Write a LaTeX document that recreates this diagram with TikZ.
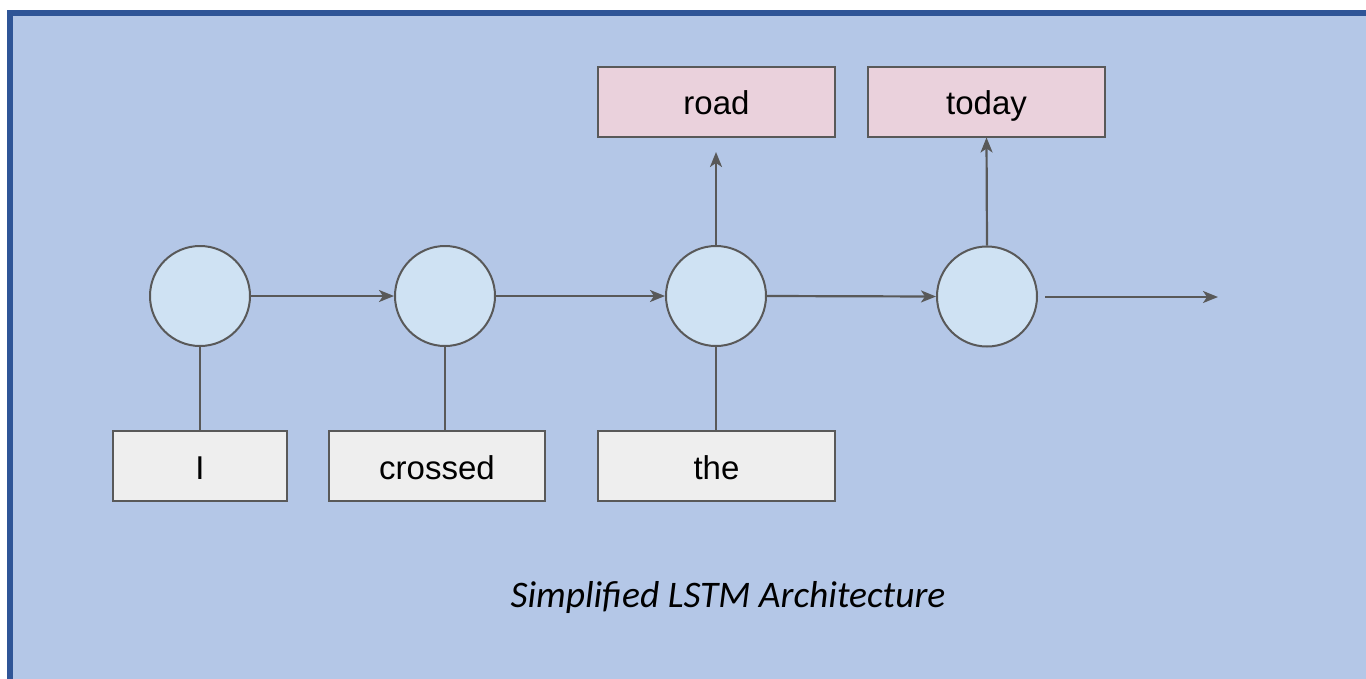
\documentclass[tikz,border=0pt]{standalone}
\usepackage{fontspec}
\setmainfont{Liberation Sans}
\newfontfamily\capfont{Carlito}
\usetikzlibrary{arrows.meta}
\definecolor{bgblue}{HTML}{B4C7E7}
\definecolor{frameblue}{HTML}{2F5597}
\definecolor{cellfill}{HTML}{CFE2F3}
\definecolor{edgegray}{HTML}{595959}
\definecolor{inbox}{HTML}{EEEEEE}
\definecolor{outbox}{HTML}{EAD1DC}
\tikzset{
  cell/.style={circle, draw=edgegray, line width=2pt, fill=cellfill, minimum size=100pt, inner sep=0pt},
  wordbox/.style={rectangle, draw=edgegray, line width=2pt, fill=inbox, minimum height=70pt, inner sep=0pt, text height=30pt, text depth=4pt, font=\fontsize{33}{38}\selectfont},
  outword/.style={wordbox, fill=outbox},
  link/.style={draw=edgegray, line width=2.2pt},
  flow/.style={link, -{Stealth[length=15pt,width=12pt,inset=4pt]}}
}
\begin{document}
\begin{tikzpicture}[x=1pt,y=-1pt]
\useasboundingbox (0,0) rectangle (1366,678);
\clip (0,0) rectangle (1366,678);
\fill[white] (0,0) rectangle (1366,678);
\draw[frameblue, line width=6pt, fill=bgblue] (9.5,12.5) rectangle (1380,700);
% cells
\node[cell] (c1) at (200,296) {};
\node[cell] (c2) at (445,296) {};
\node[cell] (c3) at (716,296) {};
\node[cell] (c4) at (987,296.5) {};
% input words
\node[wordbox, minimum width=174pt] (w1) at (200,466) {I};
\node[wordbox, minimum width=216pt] (w2) at (437,466) {crossed};
\node[wordbox, minimum width=237pt] (w3) at (716.5,466) {the};
% outputs
\node[outword, minimum width=237pt] (o1) at (716.5,101.5) {road};
\node[outword, minimum width=237pt] (o2) at (986.5,101.5) {today};
% connectors
\draw[link] (w1.north) -- (c1.south);
\draw[link] (w2.north -| c2.south) -- (c2.south);
\draw[link] (w3.north -| c3.south) -- (c3.south);
\draw[flow] (c1.east) -- (c2.west);
\draw[flow] (c2.east) -- (c3.west);
\draw[flow] (c3.east) -- (c4.west);
\coordinate (roadtip) at (716,152);
\draw[flow] (c3.north) -- (roadtip);
\draw[flow] (c4.north) -- (o2.south);
\coordinate (tailstart) at (1045,297);
\coordinate (tailend) at (1218,297);
\draw[flow] (tailstart) -- (tailend);
% caption
\node[font=\capfont\itshape\fontsize{37.5}{44}\selectfont] (cap) at (728,597) {Simplified LSTM Architecture};
\end{tikzpicture}
\end{document}
